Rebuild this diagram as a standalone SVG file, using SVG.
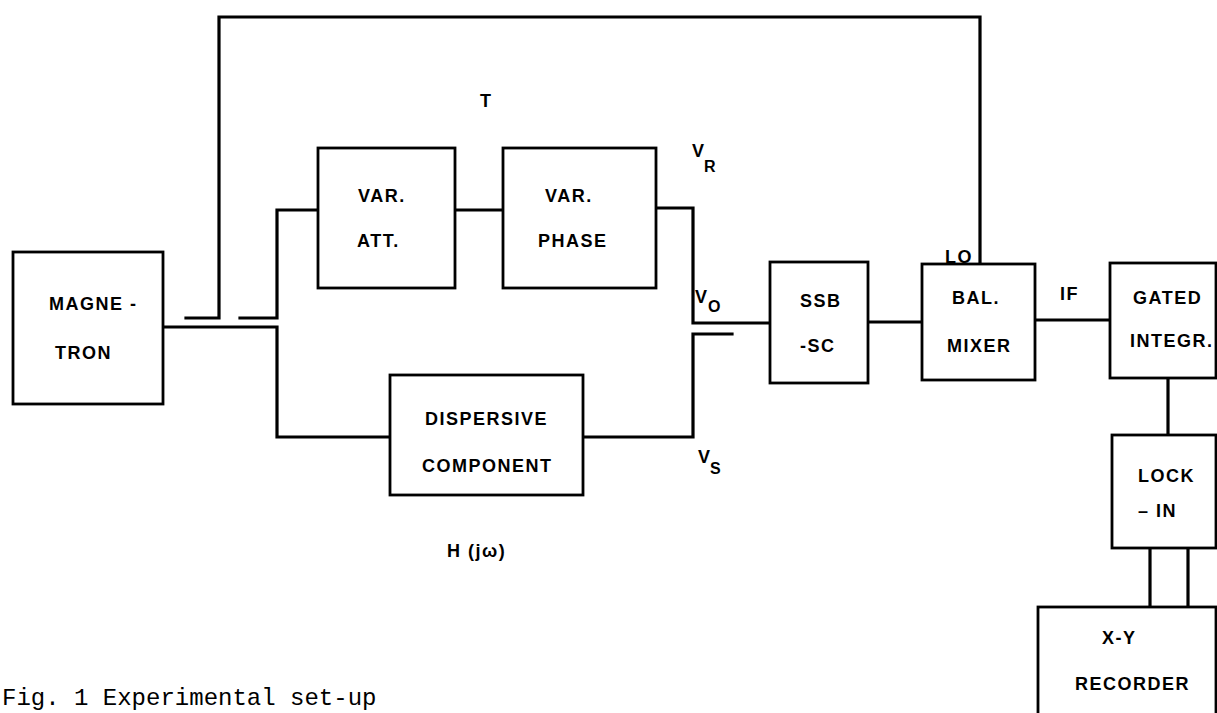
<svg xmlns="http://www.w3.org/2000/svg" width="1217" height="713" viewBox="0 0 1217 713">
<style>
.box{fill:#fff;stroke:#000;stroke-width:2.8}
.w{fill:none;stroke:#000;stroke-width:3.2;stroke-linejoin:miter;stroke-linecap:square}
.t{font-family:"Liberation Sans",Arial,sans-serif;font-weight:bold;font-size:18px;letter-spacing:1.5px;fill:#000}
.s{font-family:"Liberation Sans",Arial,sans-serif;font-weight:bold;font-size:16px;fill:#000}
.cap{font-family:"Liberation Mono","Courier New",monospace;font-size:24px;fill:#000}
</style>
<rect width="1217" height="713" fill="#fff"/>
<g id="connectors">
<polyline class="w" points="186,318 219,318 219,17 980,17 980,264"/>
<polyline class="w" points="240,318 277,318 277,210 318,210"/>
<polyline class="w" points="163,327 277,327 277,437 390,437"/>
<line class="w" x1="455" y1="210" x2="503" y2="210"/>
<polyline class="w" points="656,208 693,208 693,323 770,323"/>
<polyline class="w" points="583,437 693,437 693,334 732,334"/>
<line class="w" x1="868" y1="322" x2="922" y2="322"/>
<line class="w" x1="1035" y1="320" x2="1110" y2="320"/>
<line class="w" x1="1168" y1="378" x2="1168" y2="435"/>
<line class="w" x1="1150" y1="548" x2="1150" y2="607"/>
<line class="w" x1="1188" y1="548" x2="1188" y2="607"/>
</g>
<g id="magnetron">
<rect class="box" x="13" y="252" width="150" height="152"/>
<text class="t" x="49" y="310">MAGNE -</text>
<text class="t" x="55" y="359">TRON</text>
</g>
<g id="var-att">
<rect class="box" x="318" y="148" width="137" height="140"/>
<text class="t" x="358" y="202">VAR.</text>
<text class="t" x="357" y="247">ATT.</text>
</g>
<g id="var-phase">
<rect class="box" x="503" y="148" width="153" height="140"/>
<text class="t" x="545" y="202">VAR.</text>
<text class="t" x="538" y="247">PHASE</text>
</g>
<g id="dispersive">
<rect class="box" x="390" y="375" width="193" height="120"/>
<text class="t" x="425" y="425">DISPERSIVE</text>
<text class="t" x="422" y="472">COMPONENT</text>
</g>
<g id="ssb">
<rect class="box" x="770" y="262" width="98" height="121"/>
<text class="t" x="800" y="307">SSB</text>
<text class="t" x="800" y="352">-SC</text>
</g>
<g id="bal-mixer">
<rect class="box" x="922" y="264" width="113" height="116"/>
<text class="t" x="952" y="304">BAL.</text>
<text class="t" x="947" y="352">MIXER</text>
</g>
<g id="gated">
<rect class="box" x="1110" y="263" width="106" height="115"/>
<text class="t" x="1133" y="304">GATED</text>
<text class="t" x="1130" y="347">INTEGR.</text>
</g>
<g id="lock-in">
<rect class="box" x="1112" y="435" width="104" height="113"/>
<text class="t" x="1138" y="482">LOCK</text>
<text class="t" x="1138" y="517">– IN</text>
</g>
<g id="recorder">
<rect class="box" x="1038" y="607" width="178" height="130"/>
<text class="t" x="1102" y="644">X-Y</text>
<text class="t" x="1075" y="690">RECORDER</text>
</g>
<g id="labels">
<text class="t" x="480" y="107">T</text>
<text class="t" x="692" y="157">V</text><text class="s" x="704" y="172">R</text>
<text class="t" x="695" y="303">V</text><text class="s" x="708" y="312">O</text>
<text class="t" x="698" y="463">V</text><text class="s" x="710" y="474">S</text>
<text class="t" x="945" y="263">LO</text>
<text class="t" x="1060" y="300">IF</text>
<text class="t" x="447" y="557">H (jω)</text>
<text class="cap" x="2" y="705">Fig. 1  Experimental set-up</text>
</g>
</svg>
